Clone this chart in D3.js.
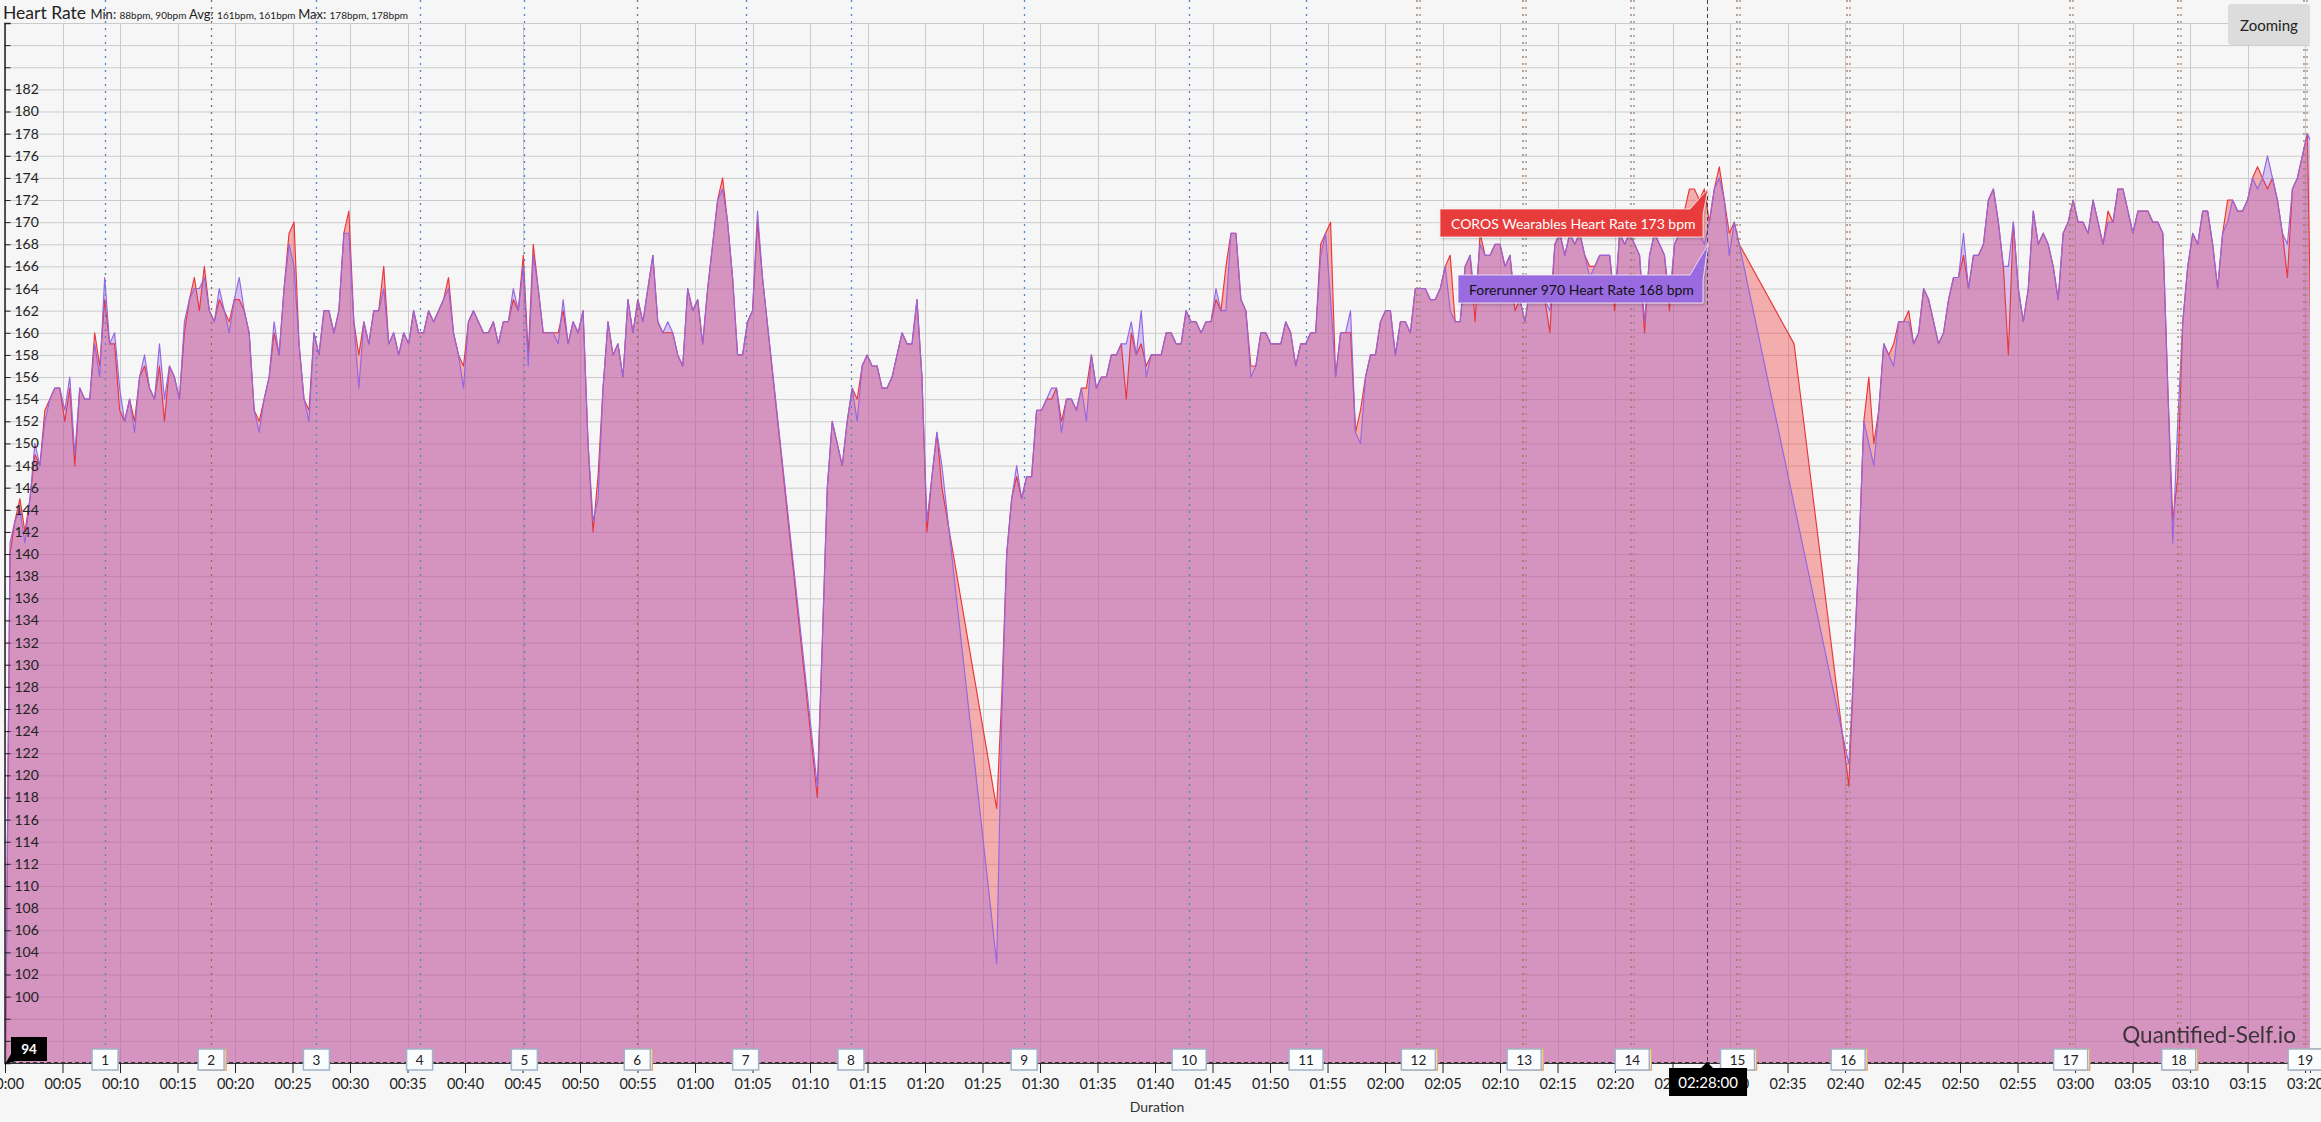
<!DOCTYPE html>
<html><head><meta charset="utf-8">
<script src="https://cdn.jsdelivr.net/npm/d3@7"></script>
<style>
html,body{margin:0;padding:0;background:#f6f6f6;overflow:hidden}
svg{display:block;font-family:Lato,"Open Sans",sans-serif}
</style></head><body>
<svg id="chart" width="2321" height="1122"></svg>
<script>
// ---------- DATA ----------
const SAMPLE_SECONDS = 26; // one reading every 26 s, null = no reading (line bridges the gap)
const corosHR = [
88,140,143,145,142,145,149,148,153,154,
155,155,152,155,148,155,154,154,160,157,
163,159,159,153,152,154,152,156,157,155,
154,157,152,157,156,154,160,163,165,162,
166,162,161,163,162,161,163,163,162,160,
153,152,154,156,160,158,164,169,170,159,
154,153,160,158,162,162,160,162,169,171,
161,158,161,159,162,162,166,159,160,158,
160,159,162,160,160,162,161,162,163,165,
160,158,157,161,162,161,160,160,161,159,
161,161,163,162,167,158,168,164,160,160,
160,160,162,159,161,160,162,150,142,147,
155,161,158,159,156,163,160,163,161,164,
167,161,160,160,160,158,157,164,162,163,
159,164,168,172,174,170,165,158,158,161,
162,170,165,null,null,null,null,null,null,null,
null,null,null,118,132,146,152,150,148,152,
155,154,157,158,157,157,155,155,156,158,
160,159,159,163,156,142,147,151,146,null,
null,null,null,null,null,null,null,null,null,117,
127,140,145,147,145,147,147,153,153,154,
154,155,152,154,154,153,155,155,158,155,
156,156,158,158,159,154,160,158,159,157,
158,158,158,160,160,159,159,162,161,161,
160,161,161,163,162,166,169,169,163,162,
157,157,160,160,159,159,159,161,160,157,
159,159,160,160,168,169,170,156,160,160,
160,151,153,156,158,158,161,162,162,158,
161,161,160,164,164,164,163,163,164,166,
167,161,161,166,167,161,169,167,167,168,
168,166,167,162,163,161,164,164,164,163,
160,168,169,167,169,168,169,167,166,166,
167,167,167,162,169,168,169,168,167,160,
167,169,168,167,162,168,169,171,173,173,
172,173,170,173,175,172,169,170,168,null,
null,null,null,null,null,null,null,null,null,159,
null,null,null,null,null,null,null,null,null,null,
119,130,140,152,156,150,153,159,158,159,
161,161,162,159,160,164,163,161,159,160,
163,165,165,167,164,167,167,168,172,173,
170,166,158,170,164,161,164,171,168,169,
168,166,163,169,170,172,170,170,169,172,
170,168,171,170,173,173,171,169,171,171,
171,170,170,169,155,143,147,161,166,169,
168,171,171,168,164,169,172,172,171,171,
172,174,175,174,173,174,172,169,165,173,
174,176,178,152
];
const forerunnerHR = [
90,141,143,144,141,145,150,148,152,154,
155,155,153,156,149,155,154,154,159,156,
165,159,160,155,152,154,151,156,158,155,
154,159,154,157,156,154,161,163,164,164,
165,162,161,164,162,160,163,165,162,160,
153,151,154,156,161,158,164,168,166,159,
154,152,160,158,162,162,160,162,169,169,
161,155,161,159,162,162,164,159,160,158,
160,159,162,160,160,162,161,162,163,164,
160,158,155,161,162,161,160,160,161,159,
161,161,164,162,166,157,167,164,160,160,
160,159,163,159,161,160,162,150,143,145,
155,161,158,159,156,163,160,163,161,164,
167,161,160,161,160,158,157,164,162,163,
159,164,168,172,173,170,165,158,158,161,
162,171,165,null,null,null,null,null,null,null,
null,null,null,119,132,146,152,150,148,152,
155,152,157,158,157,157,155,155,156,158,
160,159,159,163,156,143,147,151,148,null,
null,null,null,null,null,null,null,null,null,103,
125,140,145,148,145,147,147,153,153,154,
155,155,151,154,154,153,155,152,158,155,
156,156,158,158,159,159,161,158,162,156,
158,158,158,160,160,159,159,162,161,161,
160,161,161,164,162,162,169,169,163,162,
156,157,160,160,159,159,159,161,160,157,
159,159,160,160,167,169,163,156,160,160,
162,151,150,156,158,158,161,162,162,158,
161,161,160,164,164,164,163,163,164,166,
162,161,161,166,167,163,168,167,167,168,
168,166,167,163,163,161,164,164,164,163,
162,168,169,167,169,168,169,167,165,166,
167,167,167,163,169,168,169,168,167,161,
167,169,168,167,163,168,169,170,170,170,
169,168,170,173,174,172,167,170,168,null,
null,null,null,null,null,null,null,null,null,null,
null,null,null,null,null,null,null,null,null,null,
121,130,140,152,150,148,153,159,158,157,
161,161,161,159,160,164,163,161,159,160,
163,165,165,169,164,167,167,168,172,173,
170,166,166,170,164,161,164,171,168,169,
168,166,163,169,170,172,170,170,169,172,
170,168,170,170,173,173,171,169,171,171,
171,170,170,169,155,141,152,161,166,169,
168,171,171,168,164,169,170,172,171,171,
172,174,173,174,176,174,172,169,168,173,
174,176,178,177
];
const lapMinutes = [8.7,17.92,27.08,36.05,45.16,54.98,64.4,73.56,88.62,102.97,113.13,122.9,132.1,141.5,150.65,160.27,179.62,189.02,200.01];
const lapLabels = ["1","2","3","4","5","6","7","8","9","10","11","12","13","14","15","16","17","18","19"];
const lapKind = ["b","r","b","b","b","r","b","b","b","b","b","d","d","d","d","d","d","d","d"];
const xTickMinutes = [0,5,10,15,20,25,30,35,40,45,50,55,60,65,70,75,80,85,90,95,100,105,110,115,120,125,130,135,140,145,150,155,160,165,170,175,180,185,190,195,200];
const xTickLabels = ["00:00","00:05","00:10","00:15","00:20","00:25","00:30","00:35","00:40","00:45","00:50","00:55","01:00","01:05","01:10","01:15","01:20","01:25","01:30","01:35","01:40","01:45","01:50","01:55","02:00","02:05","02:10","02:15","02:20","02:25","02:30","02:35","02:40","02:45","02:50","02:55","03:00","03:05","03:10","03:15","03:20"];
const yTickValues = [96,98,100,102,104,106,108,110,112,114,116,118,120,122,124,126,128,130,132,134,136,138,140,142,144,146,148,150,152,154,156,158,160,162,164,166,168,170,172,174,176,178,180,182,184,186,188];
const yTickLabels = [100,102,104,106,108,110,112,114,116,118,120,122,124,126,128,130,132,134,136,138,140,142,144,146,148,150,152,154,156,158,160,162,164,166,168,170,172,174,176,178,180,182];
const seriesNames = ["COROS Wearables Heart Rate","Forerunner 970 Heart Rate"];
const hoverMinute = 148;
const hoverValues = [173,168];
const hoverLabel = "02:28:00";
const yCrossValue = 94;
const statsTitle = {min:"88bpm, 90bpm", avg:"161bpm, 161bpm", max:"178bpm, 178bpm"};

// ---------- LAYOUT ----------
const L = 5, R = 2310, T = 23, B = 1063;
const svg = d3.select("#chart");
const x = d3.scaleLinear().domain([0, 200.43]).range([L, R]);
const y = d3.scaleLinear().domain([94, 188]).range([B, T]);

svg.append("defs").append("clipPath").attr("id","plotclip")
  .append("rect").attr("x",L).attr("y",T).attr("width",R-L).attr("height",B-T);
const sh = svg.select("defs").append("filter").attr("id","shadow").attr("x","-10%").attr("y","-30%").attr("width","120%").attr("height","170%");
sh.append("feDropShadow").attr("dx",1).attr("dy",1.5).attr("stdDeviation",1.5).attr("flood-color","#000").attr("flood-opacity",0.25);

// grid
const grid = svg.append("g");
grid.selectAll(".hg").data(yTickValues).join("line")
  .attr("x1",L).attr("x2",R).attr("y1",d=>y(d)+0.5).attr("y2",d=>y(d)+0.5)
  .attr("stroke","#cbcbcb").attr("stroke-width",1);
grid.selectAll(".vg").data(xTickMinutes).join("line")
  .attr("x1",d=>Math.round(x(d))+0.5).attr("x2",d=>Math.round(x(d))+0.5).attr("y1",T).attr("y2",B)
  .attr("stroke","#cbcbcb").attr("stroke-width",1);

// series
function pts(arr){ return arr.map((v,i)=>({t:i*SAMPLE_SECONDS/60, v})).filter(d=>d.v!=null); }
const series = [
  {data:pts(corosHR), line:"#e8363c", fill:"rgba(238,72,72,0.42)"},
  {data:pts(forerunnerHR), line:"#9466e2", fill:"rgba(152,100,226,0.34)"}
];
const plot = svg.append("g").attr("clip-path","url(#plotclip)");
const area = d3.area().x(d=>x(d.t)).y0(B).y1(d=>y(d.v));
const line = d3.line().x(d=>x(d.t)).y(d=>y(d.v));
series.forEach(s=>plot.append("path").datum(s.data).attr("d",area).attr("fill",s.fill));
series.forEach(s=>plot.append("path").datum(s.data).attr("d",line).attr("fill","none")
  .attr("stroke",s.line).attr("stroke-width",1.15).attr("stroke-linejoin","round"));

// lap lines
const laps = svg.append("g");
lapMinutes.forEach((m,i)=>{
  const px = Math.round(x(m))+0.5;
  const k = lapKind[i];
  const draw=(xx,col)=>laps.append("line").attr("x1",xx).attr("x2",xx).attr("y1",0).attr("y2",B)
     .attr("stroke",col).attr("stroke-width",1.3).attr("stroke-dasharray","2,5");
  if(k==="b") draw(px,"#4f86c6");
  else if(k==="r") draw(px,"#8f6a55");
  else { draw(px-1.5,"#9a7560"); draw(px+1.5,"#a08a70"); }
});

// crosshairs
svg.append("line").attr("x1",Math.round(x(hoverMinute))+0.5).attr("x2",Math.round(x(hoverMinute))+0.5)
  .attr("y1",0).attr("y2",B).attr("stroke","#444").attr("stroke-width",1).attr("stroke-dasharray","4,3");

// axes
const xAxis = d3.axisBottom(x).tickValues(xTickMinutes).tickFormat((d,i)=>xTickLabels[i]).tickSize(10).tickPadding(6);
const gx = svg.append("g").attr("transform",`translate(0,${B})`).call(xAxis);
gx.select(".domain").attr("stroke","#333").attr("stroke-width",1);
gx.selectAll(".tick line").attr("stroke","#222");
gx.selectAll("text").attr("font-size",14.5).attr("fill","#222").attr("font-family","Lato, sans-serif");
svg.append("line").attr("x1",L).attr("x2",R).attr("y1",y(yCrossValue)-0.5).attr("y2",y(yCrossValue)-0.5)
  .attr("stroke","#333").attr("stroke-dasharray","4,3");

const yAxis = d3.axisRight(y).tickValues(yTickValues)
  .tickFormat(d=>yTickLabels.includes(d)?d:"").tickSize(6).tickPadding(4);
const gy = svg.append("g").attr("transform",`translate(${L-0.5},0)`).call(yAxis);
gy.select(".domain").attr("stroke","#222").attr("stroke-width",1.5);
gy.selectAll(".tick line").attr("stroke","#222");
gy.selectAll("text").attr("font-size",14).attr("fill","#222").attr("font-family","Lato, sans-serif");

// title
const title = svg.append("text").attr("x",3).attr("y",19).attr("fill","#222");
title.append("tspan").attr("font-size",17.5).text("Heart Rate ");
title.append("tspan").attr("font-size",13).text("Min: ");
title.append("tspan").attr("font-size",10).text(statsTitle.min+" ");
title.append("tspan").attr("font-size",13).text("Avg: ");
title.append("tspan").attr("font-size",10).text(statsTitle.avg+" ");
title.append("tspan").attr("font-size",13).text("Max: ");
title.append("tspan").attr("font-size",10).text(statsTitle.max);

svg.append("text").attr("x",1157).attr("y",1112).attr("text-anchor","middle")
  .attr("font-size",14).attr("fill","#333").text("Duration");

// lap boxes
const boxes = svg.append("g");
lapMinutes.forEach((m,i)=>{
  const cx = x(m);
  const w = lapLabels[i].length>1 ? 34 : 26;
  if(lapKind[i]!=="b") boxes.append("rect").attr("x",cx-w/2+2).attr("y",1049).attr("width",w).attr("height",21)
     .attr("fill","#fff").attr("stroke","#e6a66e").attr("stroke-width",1.5);
  boxes.append("rect").attr("x",cx-w/2).attr("y",1049).attr("width",w).attr("height",21)
     .attr("fill","#fbfcfe").attr("stroke","#9fb3c9").attr("stroke-width",1.5);
  boxes.append("text").attr("x",cx).attr("y",1060).attr("text-anchor","middle").attr("dominant-baseline","central")
     .attr("font-size",13.5).attr("fill","#222").text(lapLabels[i]);
});

// y crosshair label
svg.append("path").attr("d","M11,1037 H47 V1061 H16 L5,1064 L11,1054 Z").attr("fill","#000");
svg.append("text").attr("x",29).attr("y",1049).attr("text-anchor","middle").attr("dominant-baseline","central")
  .attr("font-size",13.5).attr("font-weight","bold").attr("fill","#fff").text(yCrossValue);

// x crosshair label
const hx = x(hoverMinute);
svg.append("path").attr("d",`M${hx-38},1068 H${hx-6} L${hx},1062 L${hx+6},1068 H${hx+40} V1096 H${hx-38} Z`).attr("fill","#000");
svg.append("text").attr("x",hx+1).attr("y",1082).attr("text-anchor","middle").attr("dominant-baseline","central")
  .attr("font-size",15).attr("fill","#fff").text(hoverLabel);

// tooltips
const tips = [
  {x0:1440, y0:209, y1:237, fill:"#e83a3a", txt:"#fff", tx:1451},
  {x0:1458, y0:275, y1:303, fill:"#9a6be0", txt:"#111", tx:1469}
];
tips.forEach((tp,i)=>{
  const py = y(hoverValues[i]);
  svg.append("path").attr("d",`M${tp.x0},${tp.y0} H1690 L${hx+1},${py} L1703,${tp.y0+5} V${tp.y1} H${tp.x0} Z`)
    .attr("fill",tp.fill).attr("stroke","rgba(255,255,255,0.7)").attr("stroke-width",1).attr("filter","url(#shadow)");
  svg.append("text").attr("x",tp.tx).attr("y",(tp.y0+tp.y1)/2).attr("dominant-baseline","central")
    .attr("font-size",14).attr("fill",tp.txt).text(`${seriesNames[i]} ${hoverValues[i]} bpm`);
});

// zoom button
svg.append("rect").attr("x",2228).attr("y",4).attr("width",82).attr("height",41).attr("rx",3).attr("fill","#dcdcdc");
svg.append("text").attr("x",2269).attr("y",25).attr("text-anchor","middle").attr("dominant-baseline","central")
  .attr("font-size",15).attr("fill","#222").text("Zooming");

// watermark
svg.append("text").attr("x",2296).attr("y",1043).attr("text-anchor","end").attr("font-size",22.5)
  .attr("fill","#262626").attr("opacity",0.88).text("Quantified-Self.io");
</script>
</body></html>
